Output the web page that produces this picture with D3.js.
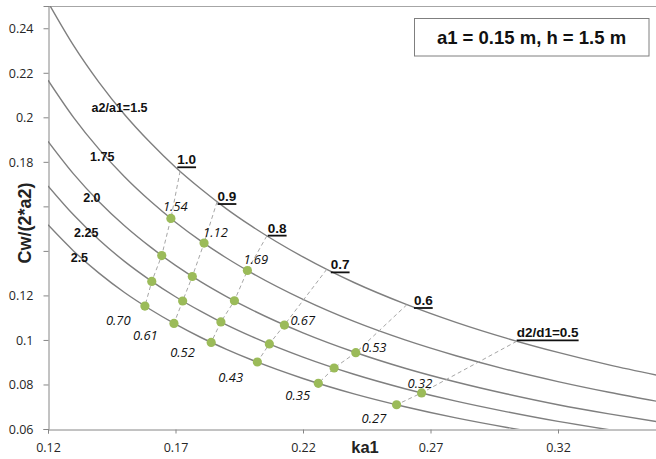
<!DOCTYPE html>
<html>
<head>
<meta charset="utf-8">
<script src="https://cdn.jsdelivr.net/npm/d3@7"></script>
<style>
  html, body { margin: 0; padding: 0; background: #fff; }
  svg { display: block; }
</style>
</head>
<body>
<div id="chart"></div>
<script>
// ---------------- data ----------------
const ka1Grid = [0.12, 0.13, 0.14, 0.15, 0.16, 0.17, 0.18, 0.19, 0.20, 0.22, 0.24, 0.26, 0.28, 0.30, 0.32, 0.34, 0.36];
const cwA15  = [0.2517, 0.2323, 0.2157, 0.2013, 0.1888, 0.1776, 0.1678, 0.1589, 0.1510, 0.1373, 0.1258, 0.1162, 0.1079, 0.1007, 0.0944, 0.0888, 0.0839];
const cwA175 = [0.2167, 0.2000, 0.1857, 0.1733, 0.1625, 0.1529, 0.1444, 0.1368, 0.1300, 0.1182, 0.1083, 0.1000, 0.0929, 0.0867, 0.0813, 0.0765, 0.0722];
const cwA20  = [0.1892, 0.1746, 0.1621, 0.1513, 0.1419, 0.1335, 0.1261, 0.1195, 0.1135, 0.1032, 0.0946, 0.0873, 0.0811, 0.0757, 0.0709, 0.0668, 0.0631];
const cwA225 = [0.1692, 0.1562, 0.1450, 0.1353, 0.1269, 0.1194, 0.1128, 0.1068, 0.1015, 0.0923, 0.0846, 0.0781, 0.0725, 0.0677, 0.0634, 0.0597, 0.0564];
const cwA25  = [0.1517, 0.1400, 0.1300, 0.1213, 0.1138, 0.1071, 0.1011, 0.0958, 0.0910, 0.0827, 0.0758, 0.0700, 0.0650, 0.0607, 0.0569, 0.0535, 0.0506];
const curveLabels = ["a2/a1=1.5", "1.75", "2.0", "2.25", "2.5"];

// d2/d1 lines: first point lies on the a2/a1=1.5 curve (no marker)
const dLabels = ["1.0", "0.9", "0.8", "0.7", "0.6", "d2/d1=0.5"];
const d10Ka = [0.1718, 0.1682, 0.1646, 0.1607, 0.1580];
const d10Cw = [0.1758, 0.1546, 0.1379, 0.1263, 0.1152];
const d09Ka = [0.1863, 0.1812, 0.1766, 0.1728, 0.1694];
const d09Cw = [0.1621, 0.1435, 0.1285, 0.1175, 0.1074];
const d08Ka = [0.2058, 0.1982, 0.1931, 0.1878, 0.1840];
const d08Cw = [0.1467, 0.1312, 0.1176, 0.1081, 0.0989];
const d07Ka = [0.2293, 0.2127, 0.2068, 0.2021];
const d07Cw = [0.1317, 0.1067, 0.0982, 0.0901];
const d06Ka = [0.2607, 0.2407, 0.2322, 0.2260];
const d06Cw = [0.1158, 0.0943, 0.0874, 0.0805];
const d05Ka = [0.3038, 0.2665, 0.2567];
const d05Cw = [0.0994, 0.0762, 0.0709];

const upperValues = ["1.54", "1.12", "1.69", "0.67", "0.53", "0.32"];
const lowerValues = ["0.70", "0.61", "0.52", "0.43", "0.35", "0.27"];

const xTicks = [0.12, 0.17, 0.22, 0.27, 0.32];
const yTicks = [0.06, 0.08, 0.10, 0.12, 0.14, 0.16, 0.18, 0.20, 0.22, 0.24];
const yTickLabels = ["0.06", "0.08", "0.1", "0.12", "0.14", "0.16", "0.18", "0.2", "0.22", "0.24"];
const xTitle = "ka1";
const yTitle = "Cw/(2*a2)";
const boxText = "a1 = 0.15 m, h = 1.5 m";

// ---------------- layout (positions in data units / pixel offsets) ----------------
const curveLabelPos = [[0.1371, 0.2025], [0.1365, 0.1802], [0.1338, 0.1621], [0.1302, 0.1461], [0.1289, 0.1352]];
const dLabelPos = [[0.1707, 0.1789], [0.1865, 0.1624], [0.2062, 0.1482], [0.2309, 0.1317], [0.2635, 0.1157], [0.3038, 0.1012]];
const upperOffsets = [[-8, -7], [-1, -6], [-4, -6], [6, 0], [6, -1], [-14, -5]];
const lowerOffsets = [[-39, 19], [-41, 17], [-41, 15], [-39, 20], [-33, 17], [-35, 18]];

const W = 656, H = 459;
const svg = d3.select("#chart").append("svg").attr("width", W).attr("height", H);

const x = d3.scaleLinear().domain([0.12, 0.36]).range([48, 660]);
const y = d3.scaleLinear().domain([0.06, 0.25]).range([429, 6]);

svg.append("defs").append("clipPath").attr("id", "plotclip")
  .append("rect").attr("x", 48).attr("y", 6).attr("width", 612).attr("height", 423);

// plot border (top)
svg.append("line").attr("x1", 48).attr("x2", 660).attr("y1", 6.5).attr("y2", 6.5)
  .attr("stroke", "#a6a6a6").attr("stroke-width", 1);

// axes
const yAxis = d3.axisLeft(y).tickValues(yTicks).tickSize(5).tickPadding(10)
  .tickFormat((d, i) => yTickLabels[i]);
const gy = svg.append("g").attr("transform", "translate(48.5,0)").call(yAxis);
const xAxis = d3.axisBottom(x).tickValues(xTicks).tickSize(4).tickPadding(10)
  .tickFormat(d3.format(".2f"));
const gx = svg.append("g").attr("transform", "translate(0,429.5)").call(xAxis);
[gx, gy].forEach(g => {
  g.select(".domain").attr("stroke", "#868686");
  g.selectAll(".tick line").attr("stroke", "#868686");
  g.selectAll(".tick text").attr("fill", "#262626")
    .style("font-family", "'Open Sans', sans-serif").style("font-size", "12.5px");
});
gy.selectAll(".tick text").attr("dy", "0.35em");

// curves
const seriesCw = [cwA15, cwA175, cwA20, cwA225, cwA25];
const line = d3.line().x(d => x(d[0])).y(d => y(d[1])).curve(d3.curveMonotoneX);
const plot = svg.append("g").attr("clip-path", "url(#plotclip)");
seriesCw.forEach(cw => {
  plot.append("path")
    .attr("d", line(ka1Grid.map((k, i) => [k, cw[i]])))
    .attr("fill", "none").attr("stroke", "#7f7f7f").attr("stroke-width", 1.4);
});

// dashed d2/d1 lines with markers
const dKa = [d10Ka, d09Ka, d08Ka, d07Ka, d06Ka, d05Ka];
const dCw = [d10Cw, d09Cw, d08Cw, d07Cw, d06Cw, d05Cw];
const dl = d3.line().x(d => x(d[0])).y(d => y(d[1]));
dKa.forEach((ka, j) => {
  const pts = ka.map((k, i) => [k, dCw[j][i]]);
  plot.append("path").attr("d", dl(pts)).attr("fill", "none")
    .attr("stroke", "#a6a6a6").attr("stroke-width", 1).attr("stroke-dasharray", "4,3");
});
dKa.forEach((ka, j) => {
  const pts = ka.map((k, i) => [k, dCw[j][i]]).slice(1);
  plot.selectAll(null).data(pts).enter().append("circle")
    .attr("cx", d => x(d[0])).attr("cy", d => y(d[1])).attr("r", 4.6)
    .attr("fill", "#9bbb59");
});

// value labels
const italicStyle = s => s.style("font-family", "'Open Sans', sans-serif")
  .style("font-size", "13px").style("font-style", "italic").attr("fill", "#111");
dKa.forEach((ka, j) => {
  const up = [ka[1], dCw[j][1]];
  const lo = [ka[ka.length - 1], dCw[j][ka.length - 1]];
  svg.append("text").text(upperValues[j])
    .attr("x", x(up[0]) + upperOffsets[j][0]).attr("y", y(up[1]) + upperOffsets[j][1])
    .call(italicStyle);
  svg.append("text").text(lowerValues[j])
    .attr("x", x(lo[0]) + lowerOffsets[j][0]).attr("y", y(lo[1]) + lowerOffsets[j][1])
    .call(italicStyle);
});

// curve labels
curveLabels.forEach((t, i) => {
  svg.append("text").text(t)
    .attr("x", x(curveLabelPos[i][0])).attr("y", y(curveLabelPos[i][1]))
    .style("font-family", "'Liberation Sans', Arial, sans-serif")
    .style("font-size", "12.5px").style("font-weight", "bold").attr("fill", "#111");
});

// d2/d1 labels (bold, underlined)
dLabels.forEach((t, i) => {
  const tx = svg.append("text").text(t)
    .attr("x", x(dLabelPos[i][0])).attr("y", y(dLabelPos[i][1]))
    .style("font-family", "'Liberation Sans', Arial, sans-serif")
    .style("font-size", "13.5px").style("font-weight", "bold").attr("fill", "#111");
  const len = tx.node().getComputedTextLength();
  svg.append("line")
    .attr("x1", x(dLabelPos[i][0])).attr("x2", x(dLabelPos[i][0]) + len)
    .attr("y1", y(dLabelPos[i][1]) + 3).attr("y2", y(dLabelPos[i][1]) + 3)
    .attr("stroke", "#111").attr("stroke-width", 1.8);
});

// axis titles (y title sits on a white box that hides the tick labels behind it)
svg.append("text").text(xTitle)
  .attr("x", 365).attr("y", 453).attr("text-anchor", "middle")
  .style("font-family", "'Liberation Sans', Arial, sans-serif")
  .style("font-size", "16.5px").style("font-weight", "bold").attr("fill", "#222");
svg.append("rect").attr("x", 0).attr("y", 178).attr("width", 40).attr("height", 90)
  .attr("fill", "#fff");
svg.append("text").text(yTitle)
  .attr("transform", "translate(31,223) rotate(-90)").attr("text-anchor", "middle")
  .style("font-family", "'Liberation Sans', Arial, sans-serif")
  .style("font-size", "18px").style("font-weight", "bold").attr("fill", "#222");

// info box
svg.append("rect").attr("x", 414.5).attr("y", 18.5).attr("width", 234.5).attr("height", 37.5)
  .attr("fill", "#fff").attr("stroke", "#7f7f7f").attr("stroke-width", 1);
svg.append("text").text(boxText)
  .attr("x", 531.5).attr("y", 43.5).attr("text-anchor", "middle")
  .style("font-family", "'Liberation Sans', Arial, sans-serif")
  .style("font-size", "18.5px").style("font-weight", "bold").attr("fill", "#111");
</script>
</body>
</html>
